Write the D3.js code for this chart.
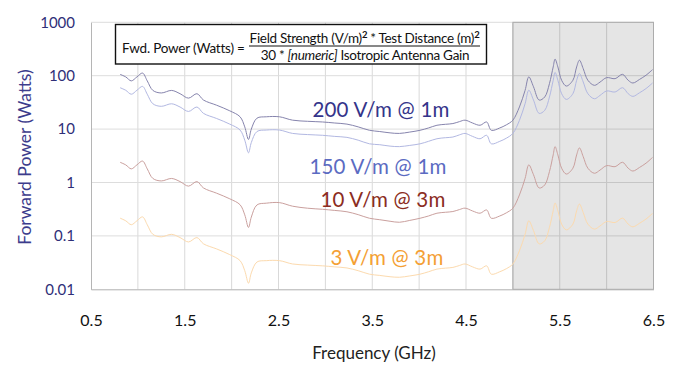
<!DOCTYPE html>
<html><head><meta charset="utf-8">
<script src="https://cdn.jsdelivr.net/npm/d3@7"></script>
<style>
body{margin:0;background:#fff;}
svg{display:block;}
text{font-family:Lato,"Open Sans",sans-serif;}
</style></head>
<body><svg id="c" width="673" height="386"></svg>
<script>
const freq = [0.81,0.87,0.93,0.99,1.05,1.10,1.16,1.25,1.36,1.45,1.54,1.63,1.70,1.84,1.98,2.09,2.14,2.18,2.21,2.27,2.37,2.51,2.65,2.81,2.97,3.10,3.23,3.35,3.47,3.58,3.69,3.79,3.90,4.01,4.10,4.19,4.28,4.36,4.43,4.49,4.57,4.65,4.72,4.77,4.86,4.93,5.00,5.07,5.13,5.17,5.22,5.28,5.34,5.39,5.43,5.45,5.48,5.52,5.57,5.64,5.68,5.71,5.75,5.80,5.87,5.93,6.00,6.09,6.17,6.23,6.28,6.35,6.42,6.49];
const v200 = [106,95,80,95,112,80,53,47.5,53,46,38,46,35,28,22,17,11,6.4,10,16,17,17,14.7,14,13.6,13,12.4,11,9.5,9,8.5,8.3,8.8,9.5,10.5,11.8,12.3,12.7,13.8,14.7,13,11.8,13.6,9.5,10.5,12,14.7,26,53,95,62,35,40,71,146,204,146,82,64,82,146,195,136,82,66,76,92,88,106,82,73,85,102,130];
const v150 = [59.6,53.4,45,53.4,63,45,29.8,26.7,29.8,25.9,21.4,25.9,19.7,15.8,12.4,9.6,6.2,3.6,5.6,9.0,9.6,9.6,8.3,7.9,7.65,7.3,7.0,6.2,5.3,5.1,4.8,4.7,4.95,5.3,5.9,6.6,6.9,7.1,7.8,8.3,7.3,6.6,7.65,5.3,5.9,6.75,8.3,14.6,29.8,53.4,34.9,19.7,22.5,39.9,82,115,82,46,36,46,82,110,76.5,46,37,42.8,51.8,49.5,59.6,46,41,47.8,57.4,73];
const v10 = [2.39,2.14,1.8,2.14,2.52,1.8,1.19,1.07,1.19,1.04,0.855,1.04,0.79,0.63,0.495,0.383,0.248,0.144,0.225,0.38,0.41,0.42,0.36,0.33,0.315,0.30,0.283,0.25,0.214,0.201,0.188,0.18,0.195,0.214,0.236,0.266,0.277,0.286,0.311,0.331,0.293,0.266,0.306,0.214,0.236,0.27,0.331,0.585,1.19,2.14,1.4,0.79,0.9,1.6,3.29,4.7,3.29,1.85,1.44,1.85,3.29,4.45,3.06,1.85,1.49,1.71,2.07,1.98,2.39,1.85,1.64,1.91,2.3,2.95];
const v3 = [0.215,0.192,0.162,0.192,0.227,0.162,0.107,0.096,0.107,0.093,0.077,0.093,0.071,0.057,0.0446,0.0344,0.0223,0.013,0.0203,0.0324,0.0344,0.0344,0.0298,0.0284,0.0275,0.0263,0.0251,0.0223,0.0192,0.0182,0.0172,0.0168,0.0178,0.0192,0.0213,0.0239,0.0249,0.0257,0.0279,0.0298,0.0263,0.0239,0.0275,0.0192,0.0213,0.0243,0.0298,0.0527,0.107,0.192,0.126,0.071,0.081,0.144,0.296,0.413,0.296,0.166,0.13,0.166,0.296,0.395,0.275,0.166,0.134,0.154,0.186,0.178,0.215,0.166,0.148,0.172,0.207,0.263];
const seriesNames = ["200 V/m @ 1m","150 V/m @ 1m","10 V/m @ 3m","3 V/m @ 3m"];
const xTicks = [0.5,1.5,2.5,3.5,4.5,5.5,6.5];
const xGrid = [1,1.5,2,2.5,3,3.5,4,4.5,5,5.5,6];
const yTicks = [0.01,0.1,1,10,100,1000];
const yTickLabels = ["0.01","0.1","1","10","100","1000"];
const shadeRange = [5.0,6.5];

const svg = d3.select("#c");
const x = d3.scaleLinear().domain([0.5,6.5]).range([91,653.5]);
const y = d3.scaleLog().domain([0.01,1000]).range([289.3,22.3]);

// grid
const g = svg.append("g");
g.selectAll(".vg").data(xGrid).join("line")
  .attr("x1",d=>x(d)).attr("x2",d=>x(d)).attr("y1",y(1000)).attr("y2",y(0.01))
  .attr("stroke","#d9d9d9").attr("stroke-width",1);
g.selectAll(".hg").data(yTicks.slice(1)).join("line")
  .attr("x1",x(0.5)).attr("x2",x(6.5)).attr("y1",d=>y(d)).attr("y2",d=>y(d))
  .attr("stroke","#dddddd").attr("stroke-width",1);

// shaded band
svg.append("rect").attr("x",x(shadeRange[0])).attr("y",y(1000))
  .attr("width",x(shadeRange[1])-x(shadeRange[0])).attr("height",y(0.01)-y(1000))
  .attr("fill","#000").attr("fill-opacity",0.1).attr("stroke","#acacac").attr("stroke-width",1);

// axes
const ya = svg.append("g").attr("transform",`translate(${x(0.5)},0)`)
  .call(d3.axisLeft(y).tickValues(yTicks).tickFormat((d,i)=>yTickLabels[i]).tickSize(0).tickPadding(16));
ya.select(".domain").attr("stroke","#b5b5b5");
ya.selectAll("text").attr("font-size",15).attr("fill","#2f2f78").attr("font-family","Lato,sans-serif");
const xa = svg.append("g").attr("transform",`translate(0,${y(0.01)})`)
  .call(d3.axisBottom(x).tickValues(xTicks).tickFormat(d3.format(".1f")).tickSize(0).tickPadding(25));
xa.select(".domain").attr("stroke","#b0b0b0");
xa.selectAll("text").attr("font-size",16).attr("fill","#111").attr("font-family","Lato,sans-serif");

svg.append("text").attr("x",374).attr("y",359).attr("text-anchor","middle")
  .attr("font-size",17).attr("fill","#222").text("Frequency (GHz)");
svg.append("text").attr("transform","translate(31,157) rotate(-90)").attr("text-anchor","middle")
  .attr("font-size",17.5).attr("fill","#3c3c8c").text("Forward Power (Watts)");

// lines
const line = d3.line().x(d=>x(d[0])).y(d=>y(d[1])).curve(d3.curveCatmullRom.alpha(0.5));
const data = [v200,v150,v10,v3];
const lineColors = ["#8684ad","#b2b8e2","#caa09e","#fcdaae"];
data.forEach((vals,i)=>{
  svg.append("path").attr("d",line(freq.map((f,j)=>[f,vals[j]])))
    .attr("fill","none").attr("stroke",lineColors[i]).attr("stroke-width",1);
});

// labels
const labelColors = ["#34348a","#5b6bc2","#8b2c22","#f4a034"];
const labelPos = [[381,117],[378,174],[383,207],[387,265]];
seriesNames.forEach((n,i)=>{
  svg.append("text").attr("x",labelPos[i][0]).attr("y",labelPos[i][1]).attr("text-anchor","middle")
    .attr("font-size",20.5).attr("letter-spacing",0.2).attr("fill",labelColors[i]).text(n);
});

// formula box
const fb = svg.append("g");
fb.append("rect").attr("x",115.5).attr("y",24.5).attr("width",371).attr("height",39.5)
  .attr("fill","#fff").attr("stroke","#111").attr("stroke-width",1.4);
fb.append("text").attr("x",122).attr("y",52.5).attr("font-size",13.5).attr("fill","#111")
  .attr("font-family","'Open Sans',sans-serif").attr("letter-spacing",-0.2).text("Fwd. Power (Watts) =");
const num = fb.append("text").attr("x",364.5).attr("y",43).attr("text-anchor","middle")
  .attr("font-size",13.5).attr("fill","#111").attr("font-family","'Open Sans',sans-serif").attr("letter-spacing",-0.3);
num.append("tspan").text("Field Strength (V/m)");
num.append("tspan").attr("dy",-5).attr("font-size",9.5).attr("font-weight","bold").text("2");
num.append("tspan").attr("dy",5).text(" * Test Distance (m)");
num.append("tspan").attr("dy",-5).attr("font-size",9.5).attr("font-weight","bold").text("2");
fb.append("line").attr("x1",249).attr("x2",480).attr("y1",46).attr("y2",46).attr("stroke","#111").attr("stroke-width",1);
const den = fb.append("text").attr("x",365).attr("y",59.5).attr("text-anchor","middle")
  .attr("font-size",13.5).attr("fill","#111").attr("font-family","'Open Sans',sans-serif").attr("letter-spacing",-0.3);
den.append("tspan").text("30 * ");
den.append("tspan").attr("font-style","italic").text("[numeric]");
den.append("tspan").text("  Isotropic Antenna Gain");
</script></body></html>
